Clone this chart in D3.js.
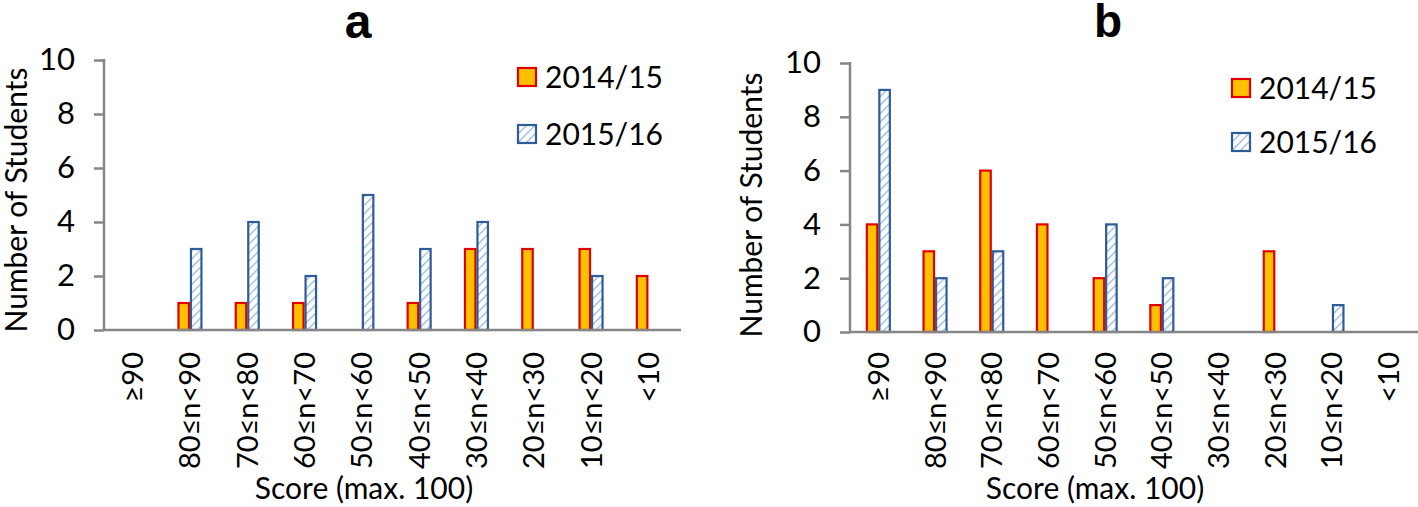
<!DOCTYPE html>
<html>
<head>
<script src="https://d3js.org/d3.v7.min.js"></script>
<style>
  body { margin: 0; background: #fff; }
  svg { display: block; }
  text { font-family: Lato, "Open Sans", sans-serif; fill: #000; }
</style>
</head>
<body>
<script>
// categories and values
var categories = ["≥90", "80≤n<90", "70≤n<80", "60≤n<70", "50≤n<60", "40≤n<50", "30≤n<40", "20≤n<30", "10≤n<20", "<10"];
var seriesNames = ["2014/15", "2015/16"];
var yTicks = [0, 2, 4, 6, 8, 10];

var a2014 = [0, 1, 1, 1, 0, 1, 3, 3, 3, 2];
var a2015 = [0, 3, 4, 2, 5, 3, 4, 0, 2, 0];
var b2014 = [4, 3, 6, 4, 2, 1, 0, 3, 0, 0];
var b2015 = [9, 2, 3, 0, 4, 2, 0, 0, 1, 0];

var W = 1418, H = 507;
var svg = d3.select("body").append("svg").attr("width", W).attr("height", H);

var defs = svg.append("defs");
var pat = defs.append("pattern")
    .attr("id", "hatch")
    .attr("patternUnits", "userSpaceOnUse")
    .attr("width", 6).attr("height", 6)
    .attr("patternTransform", "rotate(45)");
pat.append("rect").attr("width", 6).attr("height", 6).attr("fill", "#fff");
pat.append("line").attr("x1", 0).attr("y1", 0).attr("x2", 0).attr("y2", 6)
    .attr("stroke", "#95b6df").attr("stroke-width", 2.6);

// one panel
function panel(opt) {
    var g = svg.append("g");
    var x = d3.scaleBand().domain(categories).range([opt.x0, opt.x1]);
    var y = d3.scaleLinear().domain([0, 10]).range([opt.y0, opt.yTop]);
    var xs = d3.scaleBand().domain(seriesNames).range([-12.5, 12.5]);

    // y axis
    var ya = g.append("g")
        .attr("transform", "translate(" + opt.x0 + ",0)")
        .call(d3.axisLeft(y).tickValues(yTicks).tickSize(10).tickPadding(19));
    ya.select(".domain").remove();
    ya.selectAll(".tick line").attr("stroke", "#868686").attr("stroke-width", 2.5);
    ya.selectAll(".tick text").style("font-size", "31px").style("font-family", "Lato").attr("fill", "#000");
    g.append("line")
        .attr("x1", opt.x0).attr("x2", opt.x0)
        .attr("y1", y(10) - 1).attr("y2", y(0))
        .attr("stroke", "#868686").attr("stroke-width", 2.5);

    // bars
    var rows = [];
    categories.forEach(function (c, i) {
        rows.push({c: c, s: seriesNames[0], v: opt.s1[i]});
        rows.push({c: c, s: seriesNames[1], v: opt.s2[i]});
    });
    g.append("g").selectAll("rect")
        .data(rows.filter(function (d) { return d.v > 0; }))
        .enter().append("rect")
        .attr("x", function (d) { return x(d.c) + x.bandwidth() / 2 + xs(d.s) + 1; })
        .attr("y", function (d) { return y(d.v); })
        .attr("width", xs.bandwidth() - 2)
        .attr("height", function (d) { return y(0) - y(d.v); })
        .attr("fill", function (d) { return d.s === seriesNames[0] ? "#ffc000" : "url(#hatch)"; })
        .attr("stroke", function (d) { return d.s === seriesNames[0] ? "#e00000" : "#2f5b97"; })
        .attr("stroke-width", 2.2);

    // x axis line
    g.append("line")
        .attr("x1", opt.x0 - 1).attr("x2", opt.xEnd)
        .attr("y1", y(0)).attr("y2", y(0))
        .attr("stroke", "#868686").attr("stroke-width", 2.5);

    // x tick labels (rotated)
    g.append("g").selectAll("text")
        .data(categories)
        .enter().append("text")
        .attr("transform", function (d) {
            return "translate(" + (x(d) + x.bandwidth() / 2) + "," + opt.labTop + ") rotate(-90)";
        })
        .attr("dy", "0.36em")
        .attr("text-anchor", "end")
        .style("font-size", "29px")
        .text(function (d) { return d; });

    // axis titles
    g.append("text")
        .attr("x", opt.xTitleX).attr("y", 499)
        .attr("text-anchor", "middle")
        .style("font-size", "30px")
        .text("Score (max. 100)");
    g.append("text")
        .attr("transform", "translate(" + opt.yTitleX + "," + opt.yTitleY + ") rotate(-90)")
        .attr("text-anchor", "middle")
        .style("font-size", "30px")
        .text("Number of Students");

    // panel letter
    g.append("text")
        .attr("x", opt.titleX).attr("y", opt.titleY)
        .attr("text-anchor", "middle")
        .style("font-family", "Liberation Sans, Arial, sans-serif")
        .style("font-weight", "bold")
        .style("font-size", opt.titleSize + "px")
        .text(opt.letter);

    // legend
    var lg = g.append("g").selectAll("g")
        .data(seriesNames)
        .enter().append("g")
        .attr("transform", function (d, i) { return "translate(" + opt.legX + "," + (opt.legY + i * opt.legGap) + ")"; });
    lg.append("rect")
        .attr("x", 1).attr("y", -9)
        .attr("width", 18).attr("height", 18)
        .attr("fill", function (d, i) { return i === 0 ? "#ffc000" : "url(#hatch)"; })
        .attr("stroke", function (d, i) { return i === 0 ? "#e00000" : "#2f5b97"; })
        .attr("stroke-width", 2.2);
    lg.append("text")
        .attr("x", 28).attr("dy", "0.36em")
        .style("font-size", "30px")
        .text(function (d) { return d; });
}

panel({letter: "a", s1: a2014, s2: a2015,
    x0: 104, x1: 677, xEnd: 681, y0: 330, yTop: 60, labTop: 352,
    xTitleX: 364, yTitleX: 27, yTitleY: 200, titleX: 358, titleY: 38, titleSize: 48,
    legX: 517, legY: 77, legGap: 57});

panel({letter: "b", s1: b2014, s2: b2015,
    x0: 850, x1: 1417, xEnd: 1418, y0: 332, yTop: 63, labTop: 352,
    xTitleX: 1095, yTitleX: 762, yTitleY: 205, titleX: 1108, titleY: 37, titleSize: 46,
    legX: 1231, legY: 88, legGap: 54});
</script>
</body>
</html>
